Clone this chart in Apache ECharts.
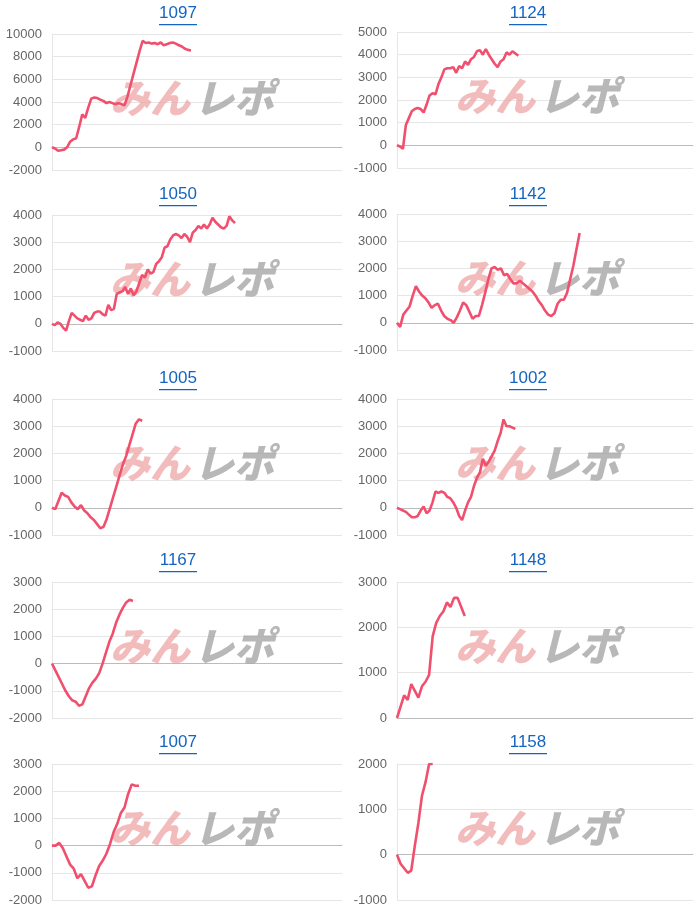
<!DOCTYPE html>
<html><head><meta charset="utf-8">
<script src="https://cdn.jsdelivr.net/npm/echarts@6/dist/echarts.min.js"></script>
<style>html,body{margin:0;padding:0;background:#fff}#c{width:700px;height:914px}</style>
</head><body><div id="c"></div>
<script>
const titles = ["1097","1124","1050","1142","1005","1002","1167","1148","1007","1158"];
const s1097 = [0,-100,-300,-250,-200,0,500,700,800,1800,2900,2600,3500,4300,4400,4350,4200,4100,3900,4000,3900,3800,3900,3800,3700,4500,5500,6500,7500,8500,9400,9200,9250,9150,9200,9100,9250,9000,9100,9200,9250,9150,9000,8900,8700,8600,8550];
const s1124 = [0,-50,-150,900,1200,1500,1600,1650,1600,1450,1800,2200,2300,2250,2700,3000,3350,3400,3400,3450,3200,3500,3400,3700,3550,3800,3900,4150,4200,4000,4250,4000,3800,3600,3450,3700,3800,4100,4000,4150,4050,3950];
const s1050 = [0,-50,50,0,-150,-250,100,400,300,200,150,100,300,150,200,400,450,450,350,300,700,500,550,1100,1150,1200,1350,1100,1300,1050,1200,1500,1800,1700,2000,1850,1900,2200,2300,2450,2800,2850,3100,3250,3300,3250,3150,3300,3200,3000,3350,3450,3600,3500,3650,3500,3650,3900,3750,3650,3550,3500,3600,3950,3800,3700];
const s1142 = [0,-150,300,450,600,1000,1350,1150,1000,900,750,550,650,700,450,250,150,100,0,200,450,750,650,400,150,250,250,650,1100,1600,2000,2050,1950,2000,1750,1800,1600,1450,1450,1550,1450,1350,1250,1150,1000,800,650,450,300,250,350,700,850,850,1100,1600,2100,2700,3300];
const s1005 = [0,-50,250,550,450,400,200,50,-50,100,-100,-200,-350,-450,-600,-750,-700,-400,0,400,800,1200,1600,1900,2300,2700,3100,3250,3200];
const s1002 = [0,-50,-100,-150,-250,-350,-350,-300,-100,50,-200,-100,200,600,550,600,550,400,350,200,0,-300,-450,-100,200,400,800,1100,1300,1800,1550,1700,1900,2100,2450,2750,3250,3000,3000,2950,2900];
const s1167 = [0,-250,-500,-750,-1000,-1200,-1350,-1400,-1550,-1500,-1200,-900,-700,-550,-350,0,400,800,1100,1500,1800,2050,2250,2350,2300];
const s1148 = [0,250,500,400,750,600,450,700,800,950,1800,2100,2250,2350,2550,2450,2650,2650,2450,2250];
const s1007 = [0,0,100,-100,-400,-700,-850,-1200,-1050,-1300,-1550,-1500,-1100,-750,-550,-300,50,500,800,1200,1400,1900,2250,2200,2200];
const s1158 = [0,-200,-300,-400,-350,200,700,1300,1600,2000,2000];
const seriesData = [s1097,s1124,s1050,s1142,s1005,s1002,s1167,s1148,s1007,s1158];
const yMin = [-2000,-1000,-1000,-1000,-1000,-1000,-2000,0,-2000,-1000];
const yMax = [10000,5000,4000,4000,4000,4000,3000,3000,3000,2000];
const yInt = [2000,1000,1000,1000,1000,1000,1000,1000,1000,1000];
const rowTop = [[34,32],[215,214],[399,399],[582,582],[764,764]];
const plotH = 136;
const colX = [[52,290],[397,296]];
const titleY = [5,186,370,552,734];
const endFrac = [0.48,0.41,0.63,0.62,0.31,0.40,0.28,0.23,0.30,0.12];
const chart = echarts.init(document.getElementById('c'));
const grid=[],xAxis=[],yAxis=[],series=[],graphic=[];
for(let i=0;i<10;i++){
  const r=Math.floor(i/2), c=i%2;
  const left=colX[c][0], w=colX[c][1], top=rowTop[r][c];
  grid.push({left:left,top:top,width:w,height:plotH});
  const d=seriesData[i];
  const n=Math.round((d.length-1)/endFrac[i])+1;
  xAxis.push({gridIndex:i,type:'category',boundaryGap:false,data:Array.from({length:n},(_,k)=>String(k)),
    axisLabel:{show:false},axisTick:{show:false},axisLine:{show:true,onZero:true,lineStyle:{color:'#bcbcbc',width:1}},splitLine:{show:false}});
  yAxis.push({gridIndex:i,type:'value',min:yMin[i],max:yMax[i],interval:yInt[i],
    axisLine:{show:true,lineStyle:{color:'#e6e6e6'}},axisTick:{show:false},
    splitLine:{lineStyle:{color:'#e6e6e6'}},
    axisLabel:{color:'#666',fontSize:13,fontFamily:'Liberation Sans, Arial',margin:10,formatter:v=>String(v)}});
  series.push({type:'line',xAxisIndex:i,yAxisIndex:i,data:d,showSymbol:false,symbol:'none',
    lineStyle:{color:'#f0506e',width:2.6},z:5,animation:false});
  const tx = c?528:178;
  graphic.push({type:'text',x:tx,y:titleY[r],z:10,
    style:{text:titles[i],fill:'#1565c0',font:'17px "Liberation Sans", Arial',textAlign:'center'}});
  graphic.push({type:'rect',shape:{x:tx-19,y:titleY[r]+19,width:38,height:1.3},style:{fill:'#1565c0'},z:10});
  graphic.push({type:'text',x:left+58,y:top+44,z:1,
    style:{text:'みん',fill:'rgba(238,160,160,0.7)',font:'italic 900 40px "Noto Sans CJK JP"'}});
  graphic.push({type:'text',x:left+142,y:top+44,z:1,
    style:{text:'レポ',fill:'rgba(160,160,160,0.75)',font:'italic 900 40px "Noto Sans CJK JP"'}});
}
chart.setOption({animation:false,grid,xAxis,yAxis,series,graphic});
</script></body></html>
